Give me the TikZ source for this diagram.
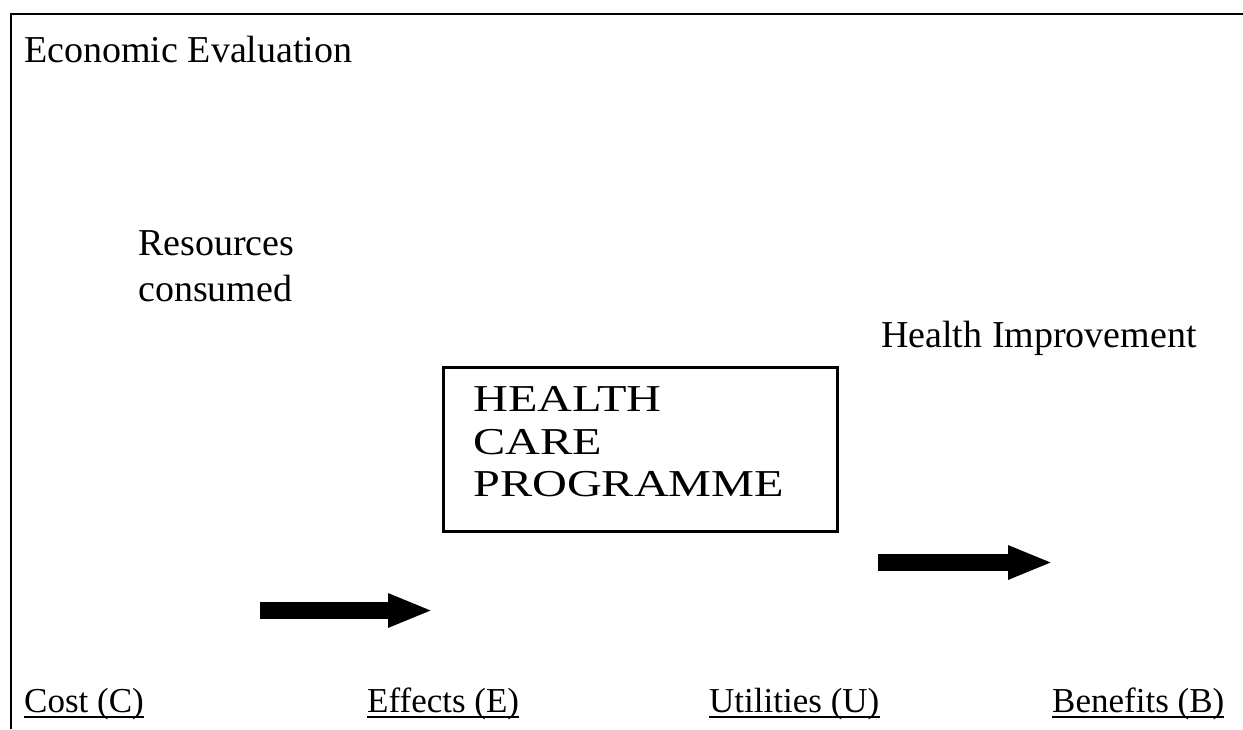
\documentclass[tikz,border=0pt]{standalone}
\usepackage{fontspec}
\setmainfont{Liberation Serif}
\newfontfamily\widefont[FakeStretch=1.27]{Liberation Serif}
\usetikzlibrary{arrows.meta}

\begin{document}
\begin{tikzpicture}[x=1pt,y=-1pt,
    label text/.style={anchor=base west,inner sep=0pt,font=\fontsize{38}{46}\selectfont},
    measure text/.style={anchor=base west,inner sep=0pt,font=\fontsize{35}{42}\selectfont},
    underlined/.style={line width=2pt},
    fat arrow/.style={line width=17pt,-{Triangle[length=45pt,width=31pt]}},
    frame line/.style={line width=2pt}]
  \useasboundingbox (0,0) rectangle (1243,729);

  % outer frame (top and left edges)
  \draw[frame line] (11,729) -- (11,14) -- (1243,14);

  % title
  \node[label text] (title) at (24,62) {Economic Evaluation};

  % inputs and outputs of the programme
  \node[label text] (res) at (138,255) {Resources};
  \node[label text] (res2) at (138,301) {consumed};
  \node[label text] (health) at (881,347) {Health Improvement};

  % programme box
  \node[draw,line width=3pt,minimum width=394pt,minimum height=164pt,inner sep=0pt] (prog) at (640,449) {};
  \node[anchor=north west,inner sep=0pt,align=left,
        font=\widefont\fontsize{38}{42.5}\selectfont] (progtext) at (473,386.5)
        {HEALTH\\CARE\\PROGRAMME};

  % flow arrows
  \coordinate (a1s) at (260,610.5);
  \coordinate (a1e) at (433,610.5);
  \coordinate (a2s) at (878,562.5);
  \coordinate (a2e) at (1053,562.5);
  \draw[fat arrow] (a1s) -- (a1e);
  \draw[fat arrow] (a2s) -- (a2e);

  % measures
  \node[measure text] (cost) at (24,712) {Cost (C)};
  \node[measure text] (eff) at (367,712) {Effects (E)};
  \node[measure text] (util) at (709,712) {Utilities (U)};
  \node[measure text] (ben) at (1052,712) {Benefits (B)};
  \foreach \n in {cost,eff,util,ben}
    \draw[underlined] ([yshift=-5pt]\n.base west) -- ([yshift=-5pt]\n.base east);
\end{tikzpicture}
\end{document}
